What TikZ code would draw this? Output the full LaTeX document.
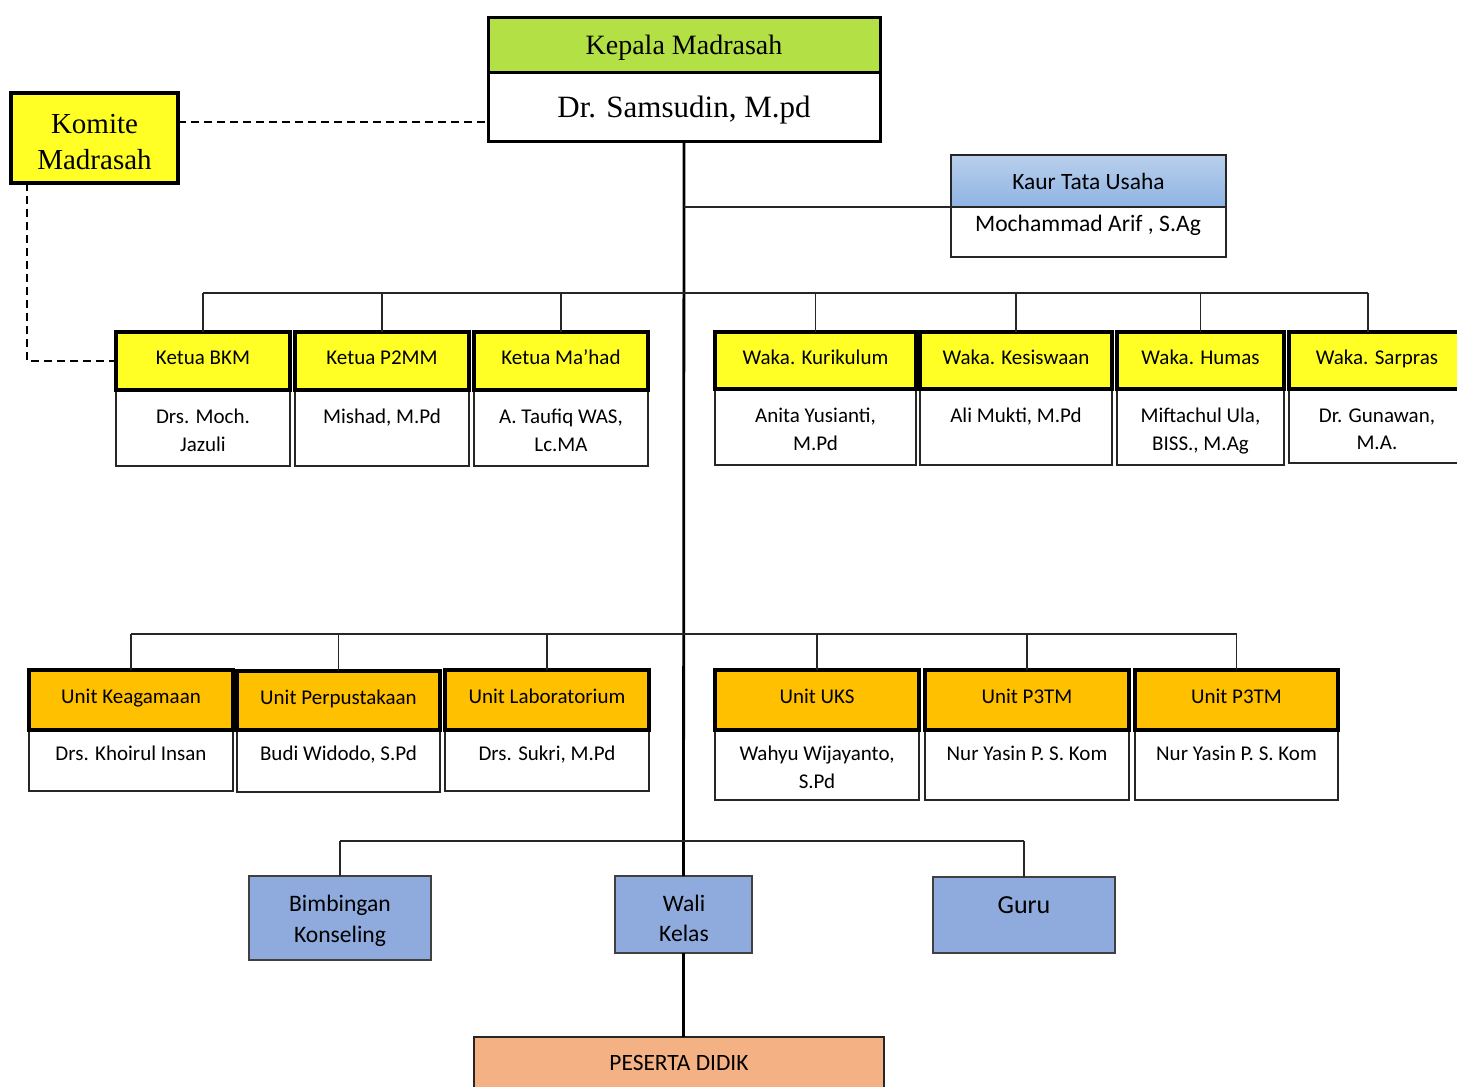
\documentclass[tikz,border=0pt]{standalone}
\usepackage{fontspec}
\setmainfont{Liberation Serif}
\newfontfamily\calib{Carlito}
\usetikzlibrary{fit}
\definecolor{kgreen}{RGB}{179,224,69}
\definecolor{kyellow}{RGB}{255,255,38}
\definecolor{korange}{RGB}{255,192,0}
\definecolor{kblueA}{RGB}{185,207,236}
\definecolor{kblueB}{RGB}{142,180,227}
\definecolor{kblueC}{RGB}{143,170,220}
\definecolor{kpeach}{RGB}{244,177,131}
\tikzset{
  thickbox/.style={draw=black, line width=1.6pt, inner sep=0pt, outer sep=0pt},
  thinbox/.style={draw=black!85, line width=0.6pt, inner sep=0pt, outer sep=0pt},
  ylw/.style={fill=kyellow},
  org/.style={fill=korange},
  bluebox/.style={draw=black!75, line width=0.6pt, inner sep=0pt, outer sep=0pt, fill=kblueC},
  txt/.style={inner sep=0pt, align=center},
  hdrfont/.style={inner sep=0pt, text height=0.6em, text depth=0.24em, font=\calib\fontsize{10.5}{13}\selectfont},
  bodytxt/.style={anchor=north, inner sep=0pt, align=center, font=\calib\fontsize{10.5}{13.75}\selectfont},
  bus/.style={draw=black!85, line width=0.6pt},
  trunk/.style={draw=black, line width=1.4pt},
  dashline/.style={draw=black, line width=1pt, dash pattern=on 4pt off 2.5pt},
}
\newcommand\boff{19}
\newcommand{\orgunit}[9]{%
  \node[thinbox, fill=white, fit={(#2,#5) (#3,#6)}] (#1-b) {};
  \node[thickbox, #7, fit={(#2,#4) (#3,#5)}] (#1-h) {};
  \node[hdrfont] (#1-ht) at (#1-h.center) {#8};
  \node[bodytxt] (#1-t) at ({(#2+#3)/2},{#5+\boff}) {#9};
}
\begin{document}
\begin{tikzpicture}[x=0.5pt,y=-0.5pt]
\useasboundingbox[fill=white] (0,0) rectangle (1457,1087);

% Kepala Madrasah
\node[thickbox, line width=1.5pt, fill=white, fit={(488,72) (880,141)}] (kep-b) {};
\node[thickbox, line width=1.5pt, fill=kgreen, fit={(488,17) (880,72)}] (kep-h) {};
\node[txt, font=\fontsize{14}{17}\selectfont] (kep-ht) at ([yshift=-1.5pt]kep-h.center) {Kepala Madrasah};
\node[txt, font=\fontsize{15.5}{18}\selectfont] (kep-bt) at ([yshift=-2pt]kep-b.center) {Dr. Samsudin, M.pd};

% Komite
\node[thickbox, line width=2pt, fill=kyellow, fit={(11,93) (178,183)}] (kom) {};
\node[txt, font=\fontsize{14.5}{18}\selectfont] (kom-t) at ([yshift=-2pt]kom.center) {Komite\\Madrasah};

% Kaur Tata Usaha
\node[thinbox, line width=1.1pt, fill=white, fit={(951,207) (1226,257)}] (kaur-b) {};
\node[thinbox, line width=1.1pt, top color=kblueA, bottom color=kblueB, fit={(951,155) (1226,207)}] (kaur-h) {};
\node[txt, font=\calib\fontsize{11.7}{14}\selectfont] (kaur-ht) at (kaur-h.center) {Kaur Tata Usaha};
\node[anchor=north, inner sep=0pt, font=\calib\fontsize{11.8}{14}\selectfont] (kaur-t) at (1088,215) {Mochammad Arif , S.Ag};

% Row 1
\renewcommand\boff{19}
\orgunit{bkm}{116}{290}{332}{390}{466}{ylw}{Ketua BKM}{Drs. Moch.\\Jazuli}
\orgunit{p2mm}{295}{469}{332}{390}{466}{ylw}{Ketua P2MM}{Mishad, M.Pd}
\orgunit{mahad}{474}{648}{332}{390}{466}{ylw}{Ketua Ma’had}{A. Taufiq WAS,\\Lc.MA}
\orgunit{kur}{715}{916}{332}{389}{465}{ylw}{Waka. Kurikulum}{Anita Yusianti,\\M.Pd}
\orgunit{kes}{920}{1112}{332}{389}{465}{ylw}{Waka. Kesiswaan}{Ali Mukti, M.Pd}
\orgunit{hum}{1117}{1284}{332}{389}{465}{ylw}{Waka. Humas}{Miftachul Ula,\\BISS., M.Ag}
\orgunit{sar}{1289}{1465}{332}{389}{463}{ylw}{Waka. Sarpras}{Dr. Gunawan,\\M.A.}

% Row 2
\renewcommand\boff{16}
\orgunit{kea}{29}{233}{670}{730}{791}{org}{Unit Keagamaan}{Drs. Khoirul Insan}
\orgunit{per}{237}{440}{671}{730}{792}{org}{Unit Perpustakaan}{Budi Widodo, S.Pd}
\orgunit{lab}{445}{649}{670}{730}{791}{org}{Unit Laboratorium}{Drs. Sukri, M.Pd}
\orgunit{uks}{715}{919}{670}{730}{800}{org}{Unit UKS}{Wahyu Wijayanto,\\S.Pd}
\orgunit{p3a}{925}{1129}{670}{730}{800}{org}{Unit P3TM}{Nur Yasin P. S. Kom}
\orgunit{p3b}{1135}{1338}{670}{730}{800}{org}{Unit P3TM}{Nur Yasin P. S. Kom}

% Row 3
\node[bluebox, fit={(249,876) (431,960)}] (bk) {};
\node[txt, font=\calib\fontsize{11.8}{15.5}\selectfont] (bk-t) at (340,921) {Bimbingan\\Konseling};
\node[bluebox, fit={(615,876) (752,953)}] (wali) {};
\node[txt, font=\calib\fontsize{11.8}{15}\selectfont] (wali-t) at (684,918) {Wali\\Kelas};
\node[bluebox, fit={(933,877) (1115,953)}] (guru) {};
\node[txt, font=\calib\fontsize{13}{15}\selectfont] (guru-t) at (1024,905) {Guru};

% Peserta didik
\node[thinbox, fill=kpeach, fit={(474,1037) (884,1100)}] (pes) {};
\node[txt, font=\calib\fontsize{11.7}{14}\selectfont] (pes-t) at (679,1063) {PESERTA DIDIK};

% Connectors
\draw[trunk] (kep-b.south) -- (wali.north);
\draw[trunk] (wali.south) -- (wali.south |- pes.north);
\draw[bus] (kaur-h.south west) -- (kaur-h.south west -| kep-b.south);

\coordinate (bus1) at (684,293);
\foreach \n in {bkm,p2mm,mahad,kur,kes,hum}
  \draw[bus] (\n-h.north) -- (\n-h.north |- bus1);
\draw[bus] ([xshift=-4.5pt]sar-h.north) -- ([xshift=-4.5pt]sar-h.north |- bus1);
\draw[bus] (bkm-h.north |- bus1) -- ([xshift=-4.5pt]sar-h.north |- bus1);

\coordinate (bus2) at (684,634);
\foreach \n in {kea,per,lab,uks,p3a,p3b}
  \draw[bus] (\n-h.north) -- (\n-h.north |- bus2);
\draw[bus] (kea-h.north |- bus2) -- (p3b-h.north |- bus2);

\coordinate (bus3) at (684,841);
\draw[bus] (bk.north) -- (bk.north |- bus3);
\draw[bus] (guru.north) -- (guru.north |- bus3);
\draw[bus] (bk.north |- bus3) -- (guru.north |- bus3);

\draw[dashline] ([yshift=8pt]kom.east) -- ([yshift=8pt]kom.east -| kep-b.west);
\draw[dashline] ([xshift=8pt]kom.south west) |- (bkm-h.west);
\end{tikzpicture}
\end{document}
